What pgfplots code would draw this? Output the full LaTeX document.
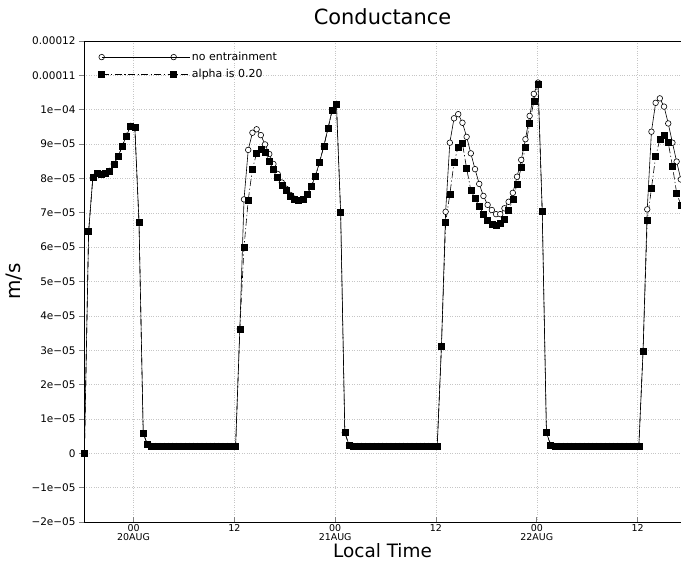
\documentclass[border=0pt]{standalone}
\usepackage{pgfplots}
\pgfplotsset{compat=1.18}
\usepackage{fontspec}
\setmainfont{DejaVu Sans}

% values in units of 1e-05 m/s, time in hours from 00 20AUG
\begin{document}
\begin{tikzpicture}
\begin{axis}[
    scale only axis,
    width=597bp, height=481bp,
    xmin=-5.9, xmax=65.17,
    ymin=-2, ymax=12,
    axis x line*=box, axis y line*=left,
    x axis line style={-, line width=0.9bp},
    y axis line style={-, line width=0.9bp},
    xtick pos=bottom,
    tick align=inside,
    major tick length=5bp,
    ytick style={xshift=-5bp, line width=0.7bp},
    xtick style={line width=0.7bp},
    xtick={0,12,24,36,48,60},
    xticklabels={{00\\20AUG},{12},{00\\21AUG},{12},{00\\22AUG},{12}},
    xticklabel style={align=center, font=\fontsize{9.5}{9}\selectfont, inner sep=2bp},
    ytick={-2,-1,0,1,2,3,4,5,6,7,8,9,10,11,12},
    yticklabels={−2e−05,−1e−05,0,1e−05,2e−05,3e−05,4e−05,5e−05,6e−05,7e−05,8e−05,9e−05,1e−04,0.00011,0.00012},
    yticklabel style={xshift=-5bp, font=\fontsize{10.5}{11}\selectfont},
    grid=major,
    grid style={dotted, gray!45, line width=0.5bp},
    title={Conductance},
    title style={at={(axis description cs:0.5,1.0229)}, anchor=base, font=\fontsize{21}{24}\selectfont},
    xlabel={Local Time},
    xlabel style={at={(axis description cs:0.5,-0.0748)}, anchor=base, font=\fontsize{18.5}{22}\selectfont},
    ylabel={m/s},
    ylabel style={at={(axis description cs:-0.1072,0.5)}, anchor=base, rotate=0, font=\fontsize{20}{22}\selectfont},
    legend style={at={(rel axis cs:0,1)}, anchor=north west, xshift=14.5bp, yshift=-9bp,
        draw=none, fill=none, inner sep=0pt, row sep=3bp,
        font=\fontsize{11}{12}\selectfont},
    legend cell align=left,
    legend image code/.code={\draw[#1] plot coordinates {(0bp,0bp) (72bp,0bp)}; \path (0bp,0bp) -- (88bp,0bp);},
]
\addplot[black, line width=0.6bp, mark=*, mark size=2.8bp, mark options={solid, fill=white, draw=black}]
coordinates {
(-5.85,0) (-5.35,6.45) (-4.85,8.02) (-4.35,8.15) (-3.85,8.13) (-3.35,8.15) (-2.85,8.22) (-2.35,8.42)
(-1.85,8.63) (-1.35,8.94) (-0.85,9.24) (-0.35,9.53) (0.15,9.49) (0.65,6.71) (1.15,0.58) (1.65,0.26)
(2.15,0.21) (2.65,0.21) (3.15,0.21) (3.65,0.21) (4.15,0.21) (4.65,0.21) (5.15,0.21) (5.65,0.21)
(6.15,0.21) (6.65,0.21) (7.15,0.21) (7.65,0.21) (8.15,0.21) (8.65,0.21) (9.15,0.21) (9.65,0.21)
(10.15,0.21) (10.65,0.21) (11.15,0.21) (11.65,0.21) (12.15,0.21)
(12.65,3.62) (13.15,7.39) (13.65,8.83) (14.15,9.33) (14.65,9.43) (15.15,9.26) (15.65,8.99) (16.15,8.71)
(16.65,8.42) (17.15,8.13) (17.65,7.88) (18.15,7.70) (18.65,7.52) (19.15,7.41) (19.65,7.36) (20.15,7.39)
(20.65,7.54) (21.15,7.76) (21.65,8.07) (22.15,8.48) (22.65,8.94) (23.15,9.46) (23.65,9.99) (24.15,10.17)
(24.65,7.02) (25.15,0.60) (25.65,0.24)
(26.15,0.21) (26.65,0.21) (27.15,0.21) (27.65,0.21) (28.15,0.21) (28.65,0.21) (29.15,0.21) (29.65,0.21)
(30.15,0.21) (30.65,0.21) (31.15,0.21) (31.65,0.21) (32.15,0.21) (32.65,0.21) (33.15,0.21) (33.65,0.21)
(34.15,0.21) (34.65,0.21) (35.15,0.21) (35.65,0.21) (36.15,0.21)
(36.65,3.10) (37.15,7.03) (37.65,9.04) (38.15,9.75) (38.65,9.87) (39.15,9.62) (39.65,9.21) (40.15,8.73)
(40.65,8.27) (41.15,7.84) (41.65,7.49) (42.15,7.23) (42.65,7.08) (43.15,6.96) (43.65,6.96) (44.15,7.13)
(44.65,7.32) (45.15,7.58) (45.65,8.05) (46.15,8.54) (46.65,9.14) (47.15,9.82) (47.65,10.46) (48.15,10.79)
(48.65,7.03) (49.15,0.60) (49.65,0.24)
(50.15,0.21) (50.65,0.21) (51.15,0.21) (51.65,0.21) (52.15,0.21) (52.65,0.21) (53.15,0.21) (53.65,0.21)
(54.15,0.21) (54.65,0.21) (55.15,0.21) (55.65,0.21) (56.15,0.21) (56.65,0.21) (57.15,0.21) (57.65,0.21)
(58.15,0.21) (58.65,0.21) (59.15,0.21) (59.65,0.21) (60.15,0.21)
(60.65,2.96) (61.15,7.10) (61.65,9.36) (62.15,10.20) (62.65,10.33) (63.15,10.09) (63.65,9.60) (64.15,9.04)
(64.65,8.49) (65.15,7.97) (65.65,7.50)
};
\addlegendentry{no entrainment}
\addplot[black, line width=0.6bp, dash pattern=on 7bp off 2.5bp on 1.2bp off 2.5bp,
    mark=square*, mark size=3bp, mark options={solid, fill=black}]
coordinates {
(-5.85,0) (-5.35,6.45) (-4.85,8.02) (-4.35,8.15) (-3.85,8.13) (-3.35,8.15) (-2.85,8.22) (-2.35,8.42)
(-1.85,8.63) (-1.35,8.94) (-0.85,9.24) (-0.35,9.53) (0.15,9.49) (0.65,6.71) (1.15,0.58) (1.65,0.26)
(2.15,0.21) (2.65,0.21) (3.15,0.21) (3.65,0.21) (4.15,0.21) (4.65,0.21) (5.15,0.21) (5.65,0.21)
(6.15,0.21) (6.65,0.21) (7.15,0.21) (7.65,0.21) (8.15,0.21) (8.65,0.21) (9.15,0.21) (9.65,0.21)
(10.15,0.21) (10.65,0.21) (11.15,0.21) (11.65,0.21) (12.15,0.21)
(12.65,3.62) (13.15,6.00) (13.65,7.37) (14.15,8.27) (14.65,8.73) (15.15,8.85) (15.65,8.75) (16.15,8.51)
(16.65,8.27) (17.15,8.03) (17.65,7.81) (18.15,7.66) (18.65,7.49) (19.15,7.39) (19.65,7.35) (20.15,7.39)
(20.65,7.54) (21.15,7.76) (21.65,8.07) (22.15,8.48) (22.65,8.94) (23.15,9.46) (23.65,9.99) (24.15,10.17)
(24.65,7.02) (25.15,0.60) (25.65,0.24)
(26.15,0.21) (26.65,0.21) (27.15,0.21) (27.65,0.21) (28.15,0.21) (28.65,0.21) (29.15,0.21) (29.65,0.21)
(30.15,0.21) (30.65,0.21) (31.15,0.21) (31.65,0.21) (32.15,0.21) (32.65,0.21) (33.15,0.21) (33.65,0.21)
(34.15,0.21) (34.65,0.21) (35.15,0.21) (35.65,0.21) (36.15,0.21)
(36.65,3.10) (37.15,6.71) (37.65,7.54) (38.15,8.46) (38.65,8.92) (39.15,9.02) (39.65,8.29) (40.15,7.66)
(40.65,7.42) (41.15,7.18) (41.65,6.96) (42.15,6.79) (42.65,6.67) (43.15,6.64) (43.65,6.69) (44.15,6.82)
(44.65,7.06) (45.15,7.39) (45.65,7.83) (46.15,8.32) (46.65,8.92) (47.15,9.60) (47.65,10.25) (48.15,10.75)
(48.65,7.03) (49.15,0.60) (49.65,0.24)
(50.15,0.21) (50.65,0.21) (51.15,0.21) (51.65,0.21) (52.15,0.21) (52.65,0.21) (53.15,0.21) (53.65,0.21)
(54.15,0.21) (54.65,0.21) (55.15,0.21) (55.65,0.21) (56.15,0.21) (56.65,0.21) (57.15,0.21) (57.65,0.21)
(58.15,0.21) (58.65,0.21) (59.15,0.21) (59.65,0.21) (60.15,0.21)
(60.65,2.96) (61.15,6.77) (61.65,7.71) (62.15,8.63) (62.65,9.14) (63.15,9.26) (63.65,9.04) (64.15,8.36)
(64.65,7.58) (65.15,7.23) (65.65,6.80)
};
\addlegendentry{alpha is 0.20}
\end{axis}
\pgfresetboundingbox
\path[use as bounding box] (current axis.south west) ++(-84bp,-43bp) rectangle ++(681bp,565bp);
\end{tikzpicture}
\end{document}
